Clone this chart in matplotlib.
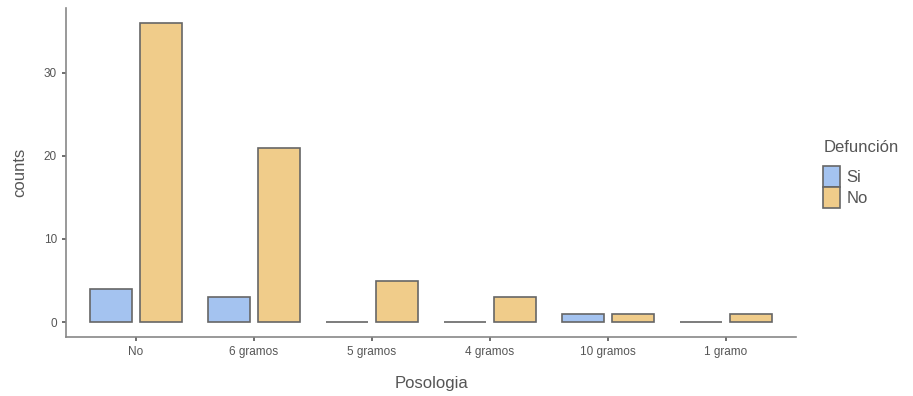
import matplotlib
matplotlib.use('Agg')
import matplotlib.pyplot as plt
import numpy as np

plt.rcParams['font.family'] = ['Liberation Sans', 'DejaVu Sans']

categories = ['No', '6 gramos', '5 gramos', '4 gramos', '10 gramos', '1 gramo']
si_counts = [4, 3, 0, 0, 1, 0]
no_counts = [36, 21, 5, 3, 1, 1]

blue = '#a4c3f0'
orange = '#f0cc8a'
edge = '#666666'
text_col = '#555555'

fig = plt.figure(figsize=(9.13, 3.96), dpi=100)
ax = fig.add_axes([66 / 913, 1 - 337 / 396, 730 / 913, 329 / 396])

x = np.arange(len(categories))
w = 0.355
ax.bar(x - 0.21, si_counts, width=w, color=blue, edgecolor=edge, linewidth=1.2, label='Si')
ax.bar(x + 0.215, no_counts, width=w, color=orange, edgecolor=edge, linewidth=1.2, label='No')

ax.set_xlim(-0.593, len(categories) - 1 + 0.593)
ax.set_ylim(-1.8, 37.8)
ax.set_xticks(x)
ax.set_xticklabels(categories)
ax.set_yticks([0, 10, 20, 30])

for s in ['top', 'right']:
    ax.spines[s].set_visible(False)
for s in ['left', 'bottom']:
    ax.spines[s].set_color('#888888')
    ax.spines[s].set_linewidth(1.2)
ax.tick_params(axis='both', colors='#555555', labelsize=8.5, length=3, width=1.2, labelcolor=text_col)

ax.set_xlabel('Posologia', fontsize=12, color=text_col, labelpad=13)
ax.set_ylabel('counts', fontsize=12, color=text_col, labelpad=12)

# legend entries without built-in title, title drawn above with a bit more gap
leg = ax.legend(loc='center left', bbox_to_anchor=(1.025, 0.455),
                frameon=False, fontsize=12,
                handlelength=1.05, handleheight=1.55, handletextpad=0.4,
                labelspacing=0.0, borderpad=0)
for t in leg.get_texts():
    t.set_color(text_col)
fig.text(824 / 913, 1 - 147 / 396, 'Defunción', fontsize=12, color=text_col,
         ha='left', va='center')

fig.savefig('out.png', dpi=100)
